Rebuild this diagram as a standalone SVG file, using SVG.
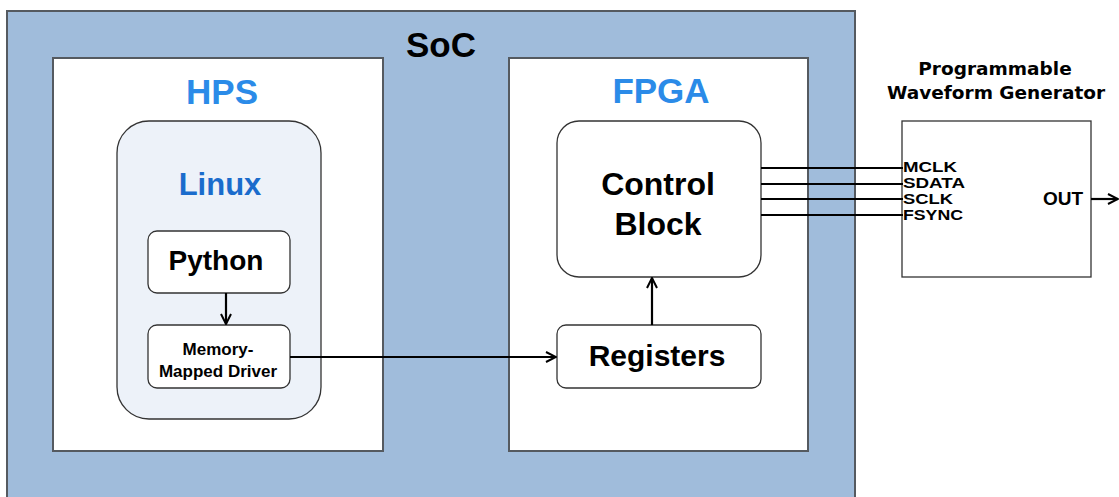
<svg xmlns="http://www.w3.org/2000/svg" width="1119" height="497" viewBox="0 0 1119 497">
  <defs>
    <style>
      .t { font-family: "Liberation Sans", Arial, sans-serif; font-weight: bold; text-anchor: middle; }
      .wide { font-family: "DejaVu Sans", Verdana, sans-serif; font-weight: bold; text-anchor: middle; font-size: 18.5px; }
      .frame { stroke: #555a60; stroke-width: 2; }
      .box { fill: #ffffff; stroke: #333; stroke-width: 1.3; }
      .wire { stroke: #000; stroke-width: 2.2; fill: none; }
      .pin { font-family: "Liberation Sans", Arial, sans-serif; font-weight: bold; font-size: 14px; }
      .out { font-family: "Liberation Sans", Arial, sans-serif; font-weight: bold; font-size: 19px; text-anchor: end; }
    </style>
    <marker id="arr" viewBox="0 0 12 12" refX="11" refY="6" markerWidth="12" markerHeight="12" markerUnits="userSpaceOnUse" orient="auto">
      <path d="M1,1 L11,6 L1,11" fill="none" stroke="#000" stroke-width="2"/>
    </marker>
  </defs>

  <rect width="1119" height="497" fill="#ffffff"/>

  <!-- SoC container -->
  <g id="soc">
    <rect x="7" y="11" width="848" height="495" fill="#a0bcdb" class="frame"/>
    <text x="441" y="57" class="t" font-size="35">SoC</text>
  </g>

  <!-- HPS side -->
  <g id="hps">
    <rect x="53" y="58" width="330" height="393" fill="#ffffff" class="frame"/>
    <text x="222" y="104" class="t" font-size="35" fill="#2b8be8">HPS</text>
  </g>

  <g id="linux">
    <rect x="117" y="121" width="204" height="298" rx="32" fill="#edf2f9" stroke="#333" stroke-width="1.3"/>
    <text x="220" y="195" class="t" font-size="31" fill="#1a6ccc">Linux</text>
  </g>

  <g id="python">
    <rect x="148" y="231" width="142" height="62" rx="9" class="box"/>
    <text x="216" y="270" class="t" font-size="28">Python</text>
  </g>

  <g id="driver">
    <rect x="148" y="325" width="142" height="63" rx="9" class="box"/>
    <text x="218" y="355" class="t" font-size="17">Memory-</text>
    <text x="218" y="377" class="t" font-size="17">Mapped Driver</text>
  </g>

  <!-- FPGA side -->
  <g id="fpga">
    <rect x="509" y="58" width="299" height="393" fill="#ffffff" class="frame"/>
    <text x="661" y="103" class="t" font-size="35" fill="#2b8be8">FPGA</text>
  </g>

  <g id="control">
    <rect x="557" y="121" width="204" height="156" rx="22" class="box"/>
    <text x="658" y="195" class="t" font-size="32">Control</text>
    <text x="658" y="235" class="t" font-size="32">Block</text>
  </g>

  <g id="registers">
    <rect x="557" y="325" width="204" height="63" rx="9" class="box"/>
    <text x="657" y="366" class="t" font-size="30">Registers</text>
  </g>

  <!-- External waveform generator -->
  <g id="pwg">
    <text x="995" y="75" class="wide">Programmable</text>
    <text x="996" y="99" class="wide">Waveform Generator</text>
    <rect x="902" y="121" width="189" height="156" fill="#ffffff" stroke="#333" stroke-width="1.3"/>
    <text x="903" y="172" class="pin" textLength="54" lengthAdjust="spacingAndGlyphs">MCLK</text>
    <text x="903" y="188" class="pin" textLength="62" lengthAdjust="spacingAndGlyphs">SDATA</text>
    <text x="903" y="204" class="pin" textLength="50" lengthAdjust="spacingAndGlyphs">SCLK</text>
    <text x="903" y="220" class="pin" textLength="60" lengthAdjust="spacingAndGlyphs">FSYNC</text>
    <text x="1083" y="205" class="out">OUT</text>
  </g>

  <!-- Connectors -->
  <g id="connectors">
    <line x1="226" y1="293" x2="226" y2="324" class="wire" marker-end="url(#arr)"/>
    <line x1="290" y1="357" x2="556" y2="357" class="wire" marker-end="url(#arr)"/>
    <line x1="652" y1="325" x2="652" y2="278" class="wire" marker-end="url(#arr)"/>
    <line x1="761" y1="168" x2="903" y2="168" class="wire"/>
    <line x1="761" y1="184" x2="903" y2="184" class="wire"/>
    <line x1="761" y1="199" x2="903" y2="199" class="wire"/>
    <line x1="761" y1="215" x2="903" y2="215" class="wire"/>
    <line x1="1091" y1="199" x2="1118" y2="199" class="wire" marker-end="url(#arr)"/>
  </g>
</svg>
